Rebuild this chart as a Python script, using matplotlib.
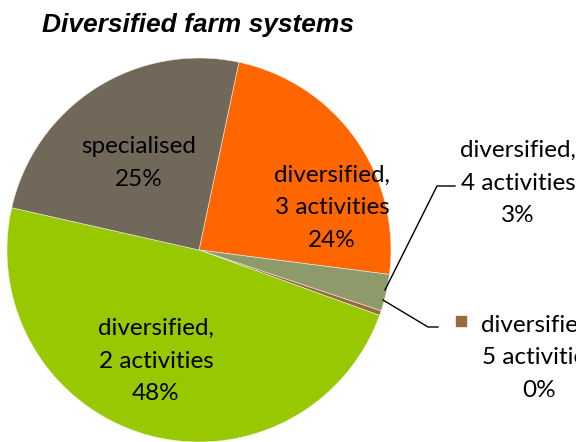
import matplotlib.pyplot as plt

# slices, clockwise from the top
labels = ['diversified,\n3 activities\n24%', 'diversified,\n4 activities\n3%',
          'diversified,\n5 activities\n0%', 'diversified,\n2 activities\n48%',
          'specialised\n25%']
values = [23.7, 3.1, 0.4, 48.0, 24.8]
colors = ['#FF6600', '#8F9A6A', '#9A6B3E', '#97C800', '#716859']

fig = plt.figure(figsize=(5.76, 4.42), dpi=100)
ax = fig.add_axes([0, 0, 1, 1])

cx, cy, r = 199, 192, 192
wedges, _ = ax.pie(values, colors=colors, startangle=78, counterclock=False,
                   center=(cx, cy), radius=r, frame=True,
                   wedgeprops=dict(edgecolor='#eeeee6', linewidth=0.4))
ax.set_xlim(0, 576)
ax.set_ylim(0, 442)
ax.axis('off')

font = dict(family='Lato', fontsize=17.5, ha='center', va='center', linespacing=1.66)
ax.text(139, 442 - 163, labels[4], **font)
ax.text(332, 442 - 208, labels[0], **font)
ax.text(156, 442 - 361, labels[3], **font)

# outside labels with leader lines
ax.text(518, 442 - 183, labels[1], **font)
ax.plot([385, 437, 455], [442 - 290, 442 - 186, 442 - 186], color='black', lw=1)

ax.text(539, 442 - 358, labels[2], **font)
ax.plot([383, 428, 438], [442 - 300, 442 - 327, 442 - 327], color='black', lw=1)
ax.scatter([461], [442 - 321], marker='s', s=55, color=colors[2])

fig.text(42 / 576, 1 - 25 / 442, 'Diversified farm systems', family='Liberation Sans',
         fontsize=19, fontweight='bold', fontstyle='italic', ha='left', va='center')

fig.savefig('out.png', dpi=100)
